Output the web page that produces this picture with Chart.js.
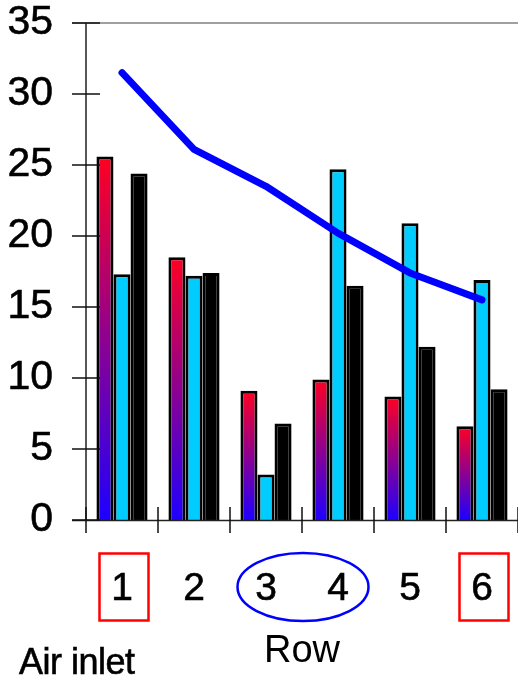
<!DOCTYPE html>
<html>
<head>
<meta charset="utf-8">
<script src="https://cdn.jsdelivr.net/npm/chart.js@4"></script>
<style>
  html, body { margin: 0; padding: 0; background: #fff; }
  #wrap { width: 518px; height: 678px; position: relative; }
</style>
</head>
<body>
<div id="wrap"><canvas id="c" width="518" height="678"></canvas></div>
<script>
// Rows of the house, from the air inlet end
const categories = ['1', '2', '3', '4', '5', '6'];
const seriesA = [25.6, 18.5, 9.1, 9.9, 8.7, 6.6];   // gradient bars
const seriesB = [17.3, 17.2, 3.2, 24.7, 20.9, 16.9]; // cyan bars
const seriesC = [24.4, 17.4, 6.8, 16.5, 12.2, 9.2];  // black bars
const lineValues = [31.5, 26.1, 23.5, 20.2, 17.4, 15.5];
const yTicks = [0, 5, 10, 15, 20, 25, 30, 35];

const FONT = "'Liberation Sans', Arial, sans-serif";

// Red-to-blue fill running down each bar from its own top to the baseline
function barGradient(ctx) {
  const chart = ctx.chart;
  if (!chart.chartArea || ctx.raw === undefined) return '#ff0022';
  const y = chart.scales.y;
  const top = y.getPixelForValue(ctx.raw);
  const base = y.getPixelForValue(0);
  const g = chart.ctx.createLinearGradient(0, top, 0, base);
  g.addColorStop(0, '#ff0022');
  g.addColorStop(1, '#1e00ff');
  return g;
}

// Axes with ticks crossing the lines, top frame, label highlights and note
const decorations = {
  id: 'decorations',
  afterDatasetsDraw(chart) {
    const { ctx, chartArea: a, scales: { x, y } } = chart;
    ctx.save();
    // top frame line
    ctx.strokeStyle = '#808080';
    ctx.lineWidth = 1.5;
    ctx.beginPath();
    ctx.moveTo(a.left - 14, y.getPixelForValue(35));
    ctx.lineTo(a.right, y.getPixelForValue(35));
    ctx.stroke();
    // axis lines
    ctx.strokeStyle = '#222';
    ctx.lineWidth = 1.5;
    ctx.beginPath();
    ctx.moveTo(a.left, a.top);
    ctx.lineTo(a.left, a.bottom);
    ctx.moveTo(a.left - 14, a.bottom + 0.5);
    ctx.lineTo(a.right, a.bottom + 0.5);
    ctx.stroke();
    // y ticks
    ctx.strokeStyle = '#111';
    ctx.beginPath();
    yTicks.forEach(v => {
      const py = y.getPixelForValue(v);
      ctx.moveTo(a.left - 14, py);
      ctx.lineTo(a.left + 14, py);
    });
    ctx.stroke();
    // x ticks on the category boundaries
    ctx.beginPath();
    for (let i = 0; i <= categories.length; i++) {
      const px = Math.round(x.getPixelForValue(i - 0.5));
      ctx.moveTo(px, a.bottom - 13);
      ctx.lineTo(px, a.bottom + 13);
    }
    ctx.stroke();

    // boxes around the end rows, ellipse around the middle rows
    const cy = 587;
    ctx.lineWidth = 2.5;
    ctx.strokeStyle = '#ff0000';
    [0, categories.length - 1].forEach(i => {
      const cx = x.getPixelForValue(i) + 2;
      ctx.strokeRect(cx - 24.5, cy - 33.5, 49, 67);
    });
    ctx.strokeStyle = '#0000ff';
    const ex = (x.getPixelForValue(2) + x.getPixelForValue(3)) / 2 + 1;
    ctx.beginPath();
    ctx.ellipse(ex, cy, 65.5, 34, 0, 0, Math.PI * 2);
    ctx.stroke();

    // note under the axis
    ctx.fillStyle = '#000';
    ctx.strokeStyle = '#000';
    ctx.lineWidth = 0.6;
    ctx.font = '36px ' + FONT;
    ctx.letterSpacing = '-0.5px';
    ctx.textAlign = 'left';
    ctx.textBaseline = 'alphabetic';
    ctx.fillText('Air inlet', 19, 674);
    ctx.strokeText('Air inlet', 19, 674);
    ctx.restore();
  }
};

new Chart(document.getElementById('c'), {
  type: 'bar',
  data: {
    labels: categories,
    datasets: [
      {
        type: 'line',
        data: lineValues,
        borderColor: '#0000ff',
        borderWidth: 7,
        borderCapStyle: 'round',
        borderJoinStyle: 'round',
        pointRadius: 0,
        tension: 0,
        fill: false,
        order: 0
      },
      { data: seriesA, backgroundColor: barGradient, borderColor: '#000', borderWidth: 3, order: 1 },
      { data: seriesB, backgroundColor: '#00ccff', borderColor: '#000', borderWidth: 3, order: 1 },
      { data: seriesC, backgroundColor: '#000000', borderColor: '#000', borderWidth: 3, order: 1 }
    ]
  },
  options: {
    responsive: false,
    animation: false,
    events: [],
    categoryPercentage: 0.71,
    barPercentage: 1.0,
    layout: { padding: { top: 23, right: 0, left: 0, bottom: 0 } },
    plugins: { legend: { display: false }, tooltip: { enabled: false } },
    scales: {
      x: {
        grid: { display: false, drawTicks: false },
        border: { display: false },
        ticks: {
          color: '#000',
          font: { family: FONT, size: 39 },
          padding: 46,
          textStrokeColor: '#000',
          textStrokeWidth: 0.6
        },
        title: {
          display: true,
          text: 'Row',
          color: '#000',
          font: { family: FONT, size: 38 },
          padding: { top: 0, bottom: 4 }
        },
        afterFit(scale) {
          scale.height = 158;
          scale.paddingLeft = 0;
          scale.paddingRight = 0;
        }
      },
      y: {
        min: 0,
        max: 35,
        grid: { display: false, drawTicks: false },
        border: { display: false },
        ticks: {
          stepSize: 5,
          color: '#000',
          padding: 33,
          font: { family: FONT, size: 41, lineHeight: 1 },
          textStrokeColor: '#000',
          textStrokeWidth: 0.6
        },
        afterFit(scale) {
          scale.width = 86;
          scale.paddingTop = 0;
          scale.paddingBottom = 0;
        }
      }
    }
  },
  plugins: [decorations]
});
</script>
</body>
</html>
